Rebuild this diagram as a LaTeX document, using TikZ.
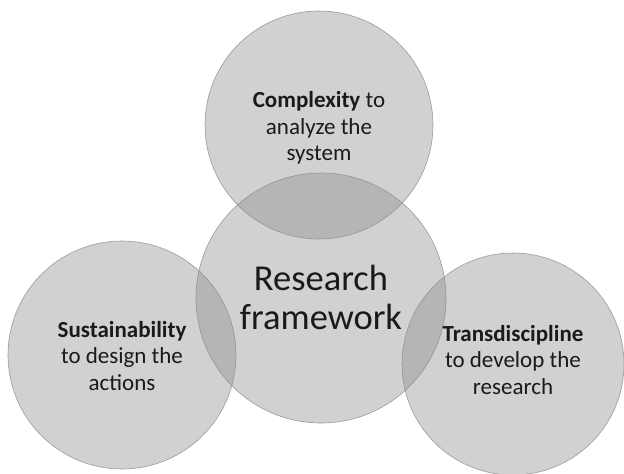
\documentclass[tikz,border=0pt]{standalone}
\usepackage{fontspec}
\setmainfont{Carlito}
\definecolor{discfill}{HTML}{8C8C8C}
\definecolor{discline}{HTML}{8A8A8A}
\definecolor{inktext}{HTML}{1A1A1A}
\begin{document}
\begin{tikzpicture}[x=1pt,y=-1pt,
  disc/.style={circle, inner sep=0pt, draw=discline, line width=0.6pt,
    fill=discfill, fill opacity=0.4, draw opacity=0.8},
  small/.style={align=center, text=inktext, font=\fontsize{23}{26.5}\selectfont},
  big/.style={align=center, text=inktext, font=\fontsize{36.5}{39}\selectfont}]
  \useasboundingbox[fill=white] (0,0) rectangle (624,474);
  % four overlapping discs
  \node[disc, minimum size=228pt] (top) at (319,125) {};
  \node[disc, minimum size=250pt] (mid) at (321,298) {};
  \node[disc, minimum size=228pt] (left) at (122,355) {};
  \node[disc, minimum size=222pt] (right) at (513,364) {};
  % labels
  \node[small] (toptext) at ([yshift=-3pt]top.center)
    {\textbf{Complexity} to\\analyze the\\system};
  \node[big] (midtext) at ([yshift=1pt]mid.center) {Research\\framework};
  \node[small] (lefttext) at ([yshift=-1pt]left.center)
    {\textbf{Sustainability}\\to design the\\actions};
  \node[small] (righttext) at ([yshift=4pt]right.center)
    {\textbf{Transdiscipline}\\to develop the\\research};
\end{tikzpicture}
\end{document}
